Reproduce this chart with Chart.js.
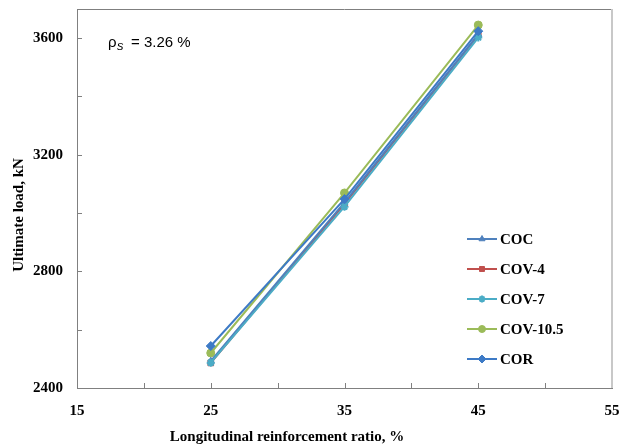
<!DOCTYPE html>
<html>
<head>
<meta charset="utf-8">
<script src="https://cdn.jsdelivr.net/npm/chart.js@4.4.0/dist/chart.umd.min.js"></script>
<style>
  html, body { margin: 0; padding: 0; background: #fff; }
  #wrap { width: 619px; height: 448px; }
</style>
</head>
<body>
<div id="wrap"><canvas id="myChart" width="619" height="448"></canvas></div>
<script>
// longitudinal reinforcement ratio (%)
const ratios = [25, 35, 45];
// ultimate load (kN) per specimen group
const coc = [2492, 3037, 3613];
const cov4 = [2486, 3032, 3610];
const cov7 = [2487, 3022, 3602];
const cov105 = [2520, 3069, 3645];
const cor = [2544, 3048, 3624];

const xTicks = [15, 25, 35, 45, 55];
const yTicks = [2400, 2800, 3200, 3600];

const serif = "'Liberation Serif', 'Times New Roman', serif";

function pts(vals) {
    return ratios.map((r, i) => ({x: r, y: vals[i]}));
}

function series(label, vals, color, style, radius, order) {
    return {
        label: label,
        data: pts(vals),
        order: order,
        borderColor: color,
        backgroundColor: color,
        borderWidth: 2,
        pointStyle: style,
        pointRadius: radius,
        pointBorderWidth: style === 'star' ? 2 : 1,
        pointBorderColor: color,
        tension: 0
    };
}

function noPad(s) {
    s.paddingLeft = 0;
    s.paddingRight = 0;
    s.paddingTop = 0;
    s.paddingBottom = 0;
}

// inside tick marks, top/right frame, titles, note and legend
const decor = {
    id: 'decor',
    afterDraw(chart) {
        const ctx = chart.ctx;
        const a = chart.chartArea;
        const xs = chart.scales.x, ys = chart.scales.y;
        ctx.save();
        ctx.strokeStyle = '#808080';
        ctx.lineWidth = 1;
        ctx.beginPath();
        for (let v = 15; v <= 55; v += 5) {
            const px = Math.round(xs.getPixelForValue(v)) + 0.5;
            ctx.moveTo(px, a.bottom);
            ctx.lineTo(px, a.bottom - 5);
        }
        for (let v = 2400; v <= 3600; v += 200) {
            const py = Math.round(ys.getPixelForValue(v)) + 0.5;
            ctx.moveTo(a.left, py);
            ctx.lineTo(a.left + 5, py);
        }
        ctx.stroke();
        // frame top / right
        ctx.beginPath();
        ctx.strokeStyle = '#7f7f7f';
        ctx.moveTo(a.left, a.top + 0.5);
        ctx.lineTo(a.right, a.top + 0.5);
        ctx.stroke();
        ctx.beginPath();
        ctx.strokeStyle = '#c8c8c8';
        ctx.lineWidth = 2;
        ctx.moveTo(a.right, a.top);
        ctx.lineTo(a.right, a.bottom);
        ctx.stroke();

        // axis titles
        ctx.fillStyle = '#000';
        ctx.font = 'bold 15px ' + serif;
        ctx.textAlign = 'center';
        ctx.textBaseline = 'middle';
        ctx.fillText('Longitudinal reinforcement ratio, %', 287, 437);
        ctx.save();
        ctx.translate(19, 215);
        ctx.rotate(-Math.PI / 2);
        ctx.fillText('Ultimate load, kN', 0, 0);
        ctx.restore();

        // note
        ctx.textAlign = 'left';
        ctx.textBaseline = 'alphabetic';
        ctx.font = "15px 'Liberation Sans', Arial, sans-serif";
        ctx.fillText('\u03C1', 108, 47);
        ctx.font = "italic 13px 'Liberation Sans', Arial, sans-serif";
        ctx.fillText('s', 117, 50);
        ctx.font = "15px 'Liberation Sans', Arial, sans-serif";
        ctx.fillText('= 3.26 %', 131, 47);

        // legend
        const ly = [239, 269, 299, 329, 359];
        chart.data.datasets.forEach((ds, i) => {
            const y = ly[i];
            ctx.strokeStyle = ds.borderColor;
            ctx.lineWidth = 2;
            ctx.beginPath();
            ctx.moveTo(467, y);
            ctx.lineTo(497, y);
            ctx.stroke();
            ctx.fillStyle = ds.backgroundColor;
            ctx.lineWidth = ds.pointBorderWidth;
            Chart.helpers.drawPoint(ctx, {
                pointStyle: ds.pointStyle,
                radius: ds.pointRadius - 0.5,
                borderWidth: ds.pointBorderWidth,
                rotation: 0
            }, 482, y);
            ctx.fillStyle = '#000';
            ctx.font = 'bold 15px ' + serif;
            ctx.textBaseline = 'middle';
            ctx.fillText(ds.label, 500, y + 1);
        });
        ctx.restore();
    }
};

const ctx = document.getElementById('myChart').getContext('2d');
const myChart = new Chart(ctx, {
    type: 'line',
    data: {
        datasets: [
            series('COC', coc, '#4F81BD', 'triangle', 4, 3),
            series('COV-4', cov4, '#C0504D', 'rect', 4, 5),
            series('COV-7', cov7, '#4BACC6', 'star', 4, 2),
            series('COV-10.5', cov105, '#9BBB59', 'circle', 4, 4),
            series('COR', cor, '#3D7AC6', 'rectRot', 4.5, 1)
        ]
    },
    options: {
        responsive: false,
        animation: false,
        layout: {
            padding: {left: 0, right: 7, top: 9, bottom: 0}
        },
        plugins: {
            legend: {display: false},
            tooltip: {enabled: false}
        },
        scales: {
            x: {
                type: 'linear',
                min: 15,
                max: 55,
                afterBuildTicks(s) { s.ticks = xTicks.map(v => ({value: v})); },
                afterFit(s) { s.height = 60; noPad(s); },
                grid: {display: false, drawTicks: false},
                border: {display: true, color: '#808080', width: 1},
                ticks: {
                    padding: 14,
                    color: '#000',
                    maxRotation: 0,
                    callback: v => String(v),
                    font: {family: serif, size: 15, weight: 'bold'}
                }
            },
            y: {
                type: 'linear',
                min: 2400,
                max: 3700,
                afterBuildTicks(s) { s.ticks = yTicks.map(v => ({value: v})); },
                afterFit(s) { s.width = 77; noPad(s); },
                grid: {display: false, drawTicks: false},
                border: {display: true, color: '#808080', width: 1},
                ticks: {
                    padding: 14,
                    color: '#000',
                    callback: v => String(v),
                    font: {family: serif, size: 15, weight: 'bold'}
                }
            }
        }
    },
    plugins: [decor]
});
</script>
</body>
</html>
